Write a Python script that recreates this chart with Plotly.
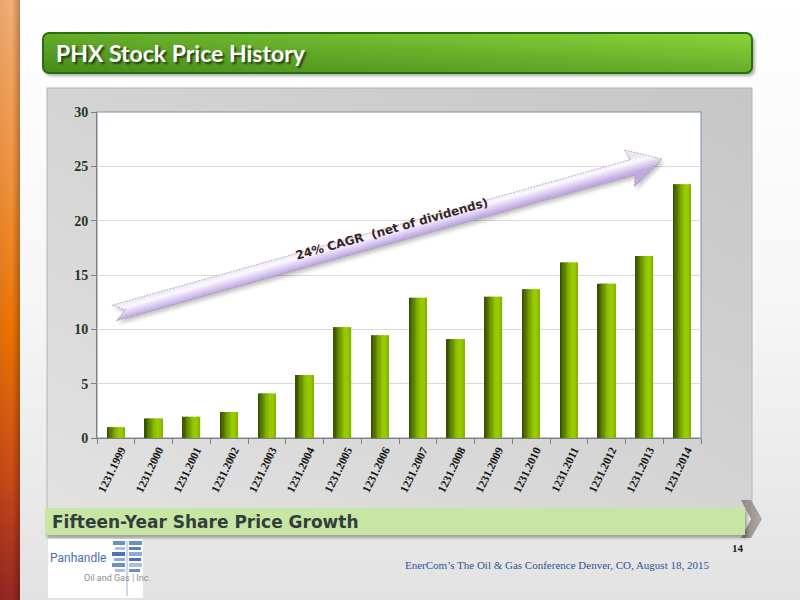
import base64
import math
import plotly.graph_objects as go

# ---------------- data ----------------
categories = ["1231.1999", "1231.2000", "1231.2001", "1231.2002", "1231.2003",
              "1231.2004", "1231.2005", "1231.2006", "1231.2007", "1231.2008",
              "1231.2009", "1231.2010", "1231.2011", "1231.2012", "1231.2013",
              "1231.2014"]
prices = [1.0, 1.8, 1.95, 2.4, 4.1, 5.8, 10.2, 9.45, 12.9, 9.1,
          13.0, 13.7, 16.15, 14.2, 16.75, 23.35]
y_ticks = [0, 5, 10, 15, 20, 25, 30]

title_text = "PHX Stock Price History"
banner_text = "Fifteen-Year Share Price Growth"
arrow_text = "24% CAGR \u00a0(net of dividends)"
footer_text = "EnerCom\u2019s The Oil &amp; Gas Conference Denver, CO, August 18, 2015"
page_no = "14"

# ---------------- geometry helpers (slide pixels -> paper) ----------------
W, H = 800, 600
PL, PR, PT, PB = 97, 701, 112, 438
PW, PH = PR - PL, PB - PT


def px(x):
    return (x - PL) / PW


def py(y):
    return (PB - y) / PH


def svg_uri(body):
    svg = ('<svg xmlns="http://www.w3.org/2000/svg" width="800" height="600" '
           'viewBox="0 0 800 600">' + body + '</svg>')
    return "data:image/svg+xml;base64," + base64.b64encode(svg.encode()).decode()


# ---------------- background slide decoration ----------------
bg = """
<defs>
 <linearGradient id="slide" x1="0" y1="0" x2="0" y2="1">
  <stop offset="0" stop-color="#ffffff"/><stop offset="0.5" stop-color="#f6f6f6"/>
  <stop offset="1" stop-color="#e2e2e2"/></linearGradient>
 <linearGradient id="stripe" x1="0" y1="0" x2="0" y2="1">
  <stop offset="0" stop-color="#f3ae74"/><stop offset="0.3" stop-color="#f2923c"/>
  <stop offset="0.55" stop-color="#ec7404"/><stop offset="0.8" stop-color="#c84a18"/>
  <stop offset="1" stop-color="#962624"/></linearGradient>
 <linearGradient id="stripeh" x1="0" y1="0" x2="1" y2="0">
  <stop offset="0" stop-color="#000" stop-opacity="0.05"/>
  <stop offset="0.6" stop-color="#000" stop-opacity="0"/>
  <stop offset="1" stop-color="#000" stop-opacity="0.25"/></linearGradient>
 <linearGradient id="panel" x1="1" y1="0" x2="0" y2="1">
  <stop offset="0" stop-color="#c6c6c6"/><stop offset="1" stop-color="#e2e2e2"/></linearGradient>
 <linearGradient id="title" x1="0" y1="1" x2="1" y2="0">
  <stop offset="0" stop-color="#468a1a"/><stop offset="0.5" stop-color="#66ad2a"/>
  <stop offset="1" stop-color="#8bd53a"/></linearGradient>
 <linearGradient id="chev" x1="0" y1="0" x2="1" y2="0">
  <stop offset="0" stop-color="#8e8780"/><stop offset="1" stop-color="#b0aaa4"/></linearGradient>
 <filter id="blur" x="-5%" y="-20%" width="110%" height="140%"><feGaussianBlur stdDeviation="1.5"/></filter>
</defs>
<rect x="0" y="0" width="800" height="600" fill="url(#slide)"/>
<rect x="0" y="0" width="20" height="600" fill="url(#stripe)"/>
<rect x="0" y="0" width="20" height="600" fill="url(#stripeh)"/>
<rect x="45" y="36" width="710" height="40" rx="6" fill="#000" opacity="0.3" filter="url(#blur)"/>
<rect x="43" y="33" width="709" height="40" rx="6" fill="url(#title)" stroke="#23700c" stroke-width="2"/>
<rect x="47" y="88" width="705" height="422" fill="url(#panel)" stroke="#b4b4b4" stroke-width="1"/>
<rect x="97" y="112" width="604" height="326" fill="#ffffff" stroke="#7b8cab" stroke-width="1"/>
<polygon points="741,500 751,500 762,519 751,538 741,538 751,519" fill="url(#chev)"/>
<rect x="47" y="511" width="700" height="27" fill="#000" opacity="0.3" filter="url(#blur)"/>
<rect x="45" y="508" width="700" height="27" fill="#c7e6a3"/>
<rect x="48" y="539" width="95" height="59" fill="#ffffff"/>
<line x1="127" y1="541" x2="127" y2="596" stroke="#9cb4d4" stroke-width="1"/>
<rect x="113" y="541" width="12" height="4" fill="#6f8fc0"/><rect x="129" y="541" width="13" height="4" fill="#6f8fc0"/>
<rect x="115" y="547" width="10" height="3" fill="#a9c0e0"/><rect x="129" y="547" width="12" height="3" fill="#5d7fb8"/>
<rect x="112" y="552" width="13" height="4" fill="#4f73b0"/><rect x="129" y="552" width="13" height="4" fill="#8eaad4"/>
<rect x="114" y="558" width="11" height="3" fill="#8eaad4"/><rect x="129" y="558" width="12" height="3" fill="#4f73b0"/>
<rect x="112" y="563" width="13" height="4" fill="#6f8fc0"/><rect x="129" y="563" width="13" height="4" fill="#a9c0e0"/>
<rect x="115" y="569" width="10" height="3" fill="#a9c0e0"/><rect x="129" y="569" width="11" height="3" fill="#6f8fc0"/>
"""

# ---------------- arrow decoration ----------------
T = (114.0, 313.0)
P = (662.0, 159.0)
L = math.hypot(P[0] - T[0], P[1] - T[1])
ux, uy = (P[0] - T[0]) / L, (P[1] - T[1]) / L
vx, vy = uy, -ux  # upward normal


def pt(s, n):
    return (T[0] + s * ux + n * vx, T[1] + s * uy + n * vy)


h, hh, hl = 8.0, 19.0, 30.0
poly = [pt(0, h), pt(L - hl, h), pt(L - hl - 4, hh), pt(L, 0),
        pt(L - hl - 4, -hh), pt(L - hl, -h), pt(0, -h), pt(12, 0)]
pts = " ".join(f"{a:.1f},{b:.1f}" for a, b in poly)
g1 = pt(0, h)
g2 = pt(0, -h)
arrow_svg = f"""
<defs>
 <linearGradient id="ag" gradientUnits="userSpaceOnUse" x1="{g1[0]:.1f}" y1="{g1[1]:.1f}" x2="{g2[0]:.1f}" y2="{g2[1]:.1f}">
  <stop offset="0" stop-color="#ede4f8"/><stop offset="0.35" stop-color="#fbf8fe"/>
  <stop offset="0.7" stop-color="#dccdf2"/><stop offset="1" stop-color="#c2a9e2"/></linearGradient>
 <filter id="sh" x="-5%" y="-20%" width="110%" height="140%"><feGaussianBlur stdDeviation="2"/></filter>
</defs>
<polygon points="{pts}" fill="#000" opacity="0.25" transform="translate(2,3)" filter="url(#sh)"/>
<polygon points="{pts}" fill="url(#ag)" stroke="#8a8a8a" stroke-width="0.7" stroke-dasharray="1.5,1.5"/>
"""

# ---------------- bar shading (cylinder-like gradient across the bar) ----------------
grad_stops = [(0.0, (0x34, 0x48, 0x00)), (0.25, (0x5a, 0x7e, 0x00)),
              (0.5, (0x80, 0xb0, 0x00)), (0.7, (0x9a, 0xcc, 0x00)),
              (0.88, (0x96, 0xc8, 0x00)), (1.0, (0x80, 0xae, 0x00))]


def grad_color(t):
    for (t0, c0), (t1, c1) in zip(grad_stops, grad_stops[1:]):
        if t <= t1:
            f = (t - t0) / (t1 - t0)
            return "rgb(%d,%d,%d)" % tuple(round(a + (b - a) * f) for a, b in zip(c0, c1))
    return "rgb(%d,%d,%d)" % grad_stops[-1][1]


fig = go.Figure()

bar_w = 0.46
n_strips = 14
for i in range(n_strips):
    a = i / n_strips
    b = (i + 1) / n_strips
    fig.add_trace(go.Bar(
        x=categories, y=prices,
        width=[bar_w * (b - a) + 0.004] * len(categories),
        offset=[-bar_w / 2 + bar_w * a] * len(categories),
        marker=dict(color=grad_color((a + b) / 2), line=dict(width=0)),
        showlegend=False, hoverinfo="x+y",
    ))

fig.update_layout(
    width=W, height=H, autosize=False,
    margin=dict(l=PL, r=W - PR, t=PT, b=H - PB, pad=0),
    barmode="overlay",
    paper_bgcolor="#ffffff",
    plot_bgcolor="rgba(0,0,0,0)",
    showlegend=False,
    xaxis=dict(
        type="category", tickangle=-64, showline=True, linecolor="#7f7f7f", linewidth=1,
        ticks="outside", ticklen=5, tickcolor="#7f7f7f", tickson="boundaries",
        showgrid=False, zeroline=False, ticklabelshift=5,
        tickfont=dict(family="Liberation Serif", size=11.5, color="#141414", weight="bold"),
    ),
    yaxis=dict(
        range=[0, 30], tickvals=y_ticks, showline=True, linecolor="#7f7f7f", linewidth=1,
        ticks="outside", ticklen=5, tickcolor="#7f7f7f",
        showgrid=True, gridcolor="#d9d9d9", gridwidth=1, zeroline=False,
        tickfont=dict(family="Liberation Serif", size=14, color="#1d3a1d", weight="bold"),
    ),
    images=[
        dict(source=svg_uri(bg), xref="paper", yref="paper", x=px(0), y=py(0),
             sizex=W / PW, sizey=H / PH, xanchor="left", yanchor="top",
             sizing="stretch", layer="below"),
        dict(source=svg_uri(arrow_svg), xref="paper", yref="paper", x=px(0), y=py(0),
             sizex=W / PW, sizey=H / PH, xanchor="left", yanchor="top",
             sizing="stretch", layer="above"),
    ],
)


def ann(text, x, y, xanchor="left", **font):
    fig.add_annotation(text=text, x=px(x), y=py(y), xref="paper", yref="paper",
                       xanchor=xanchor, yanchor="middle", showarrow=False,
                       font=font)


ann(title_text, 54, 53, family="Lato", size=23, color="#ffffff", weight="bold",
    shadow="2px 2px 2px rgba(0,0,0,0.6)")
ann(banner_text, 50, 522, family="DejaVu Sans", size=17, color="#343d3d", weight="bold")
ann(footer_text, 557, 565, xanchor="center", family="Liberation Serif", size=11, color="#2f5597")
ann(page_no, 738, 548, xanchor="center", family="Liberation Serif", size=11, color="#222222", weight="bold")
ann("Panhandle", 48, 558, family="Roboto", size=12, color="#4a6fae")
ann("Oil and Gas | Inc.", 82, 578, family="Roboto", size=9, color="#8c8c8c")

mid = pt(L * 0.51, 6)
fig.add_annotation(text=arrow_text, x=px(mid[0]), y=py(mid[1]), xref="paper", yref="paper",
                   xanchor="center", yanchor="middle", showarrow=False,
                   textangle=-math.degrees(math.atan2(-uy, ux)),
                   font=dict(family="DejaVu Sans", size=12, color="#3a2626", weight="bold"))

fig.write_html("out.html", config={"displayModeBar": False},
               post_script="document.body.style.margin='0';document.body.style.overflow='hidden';")
